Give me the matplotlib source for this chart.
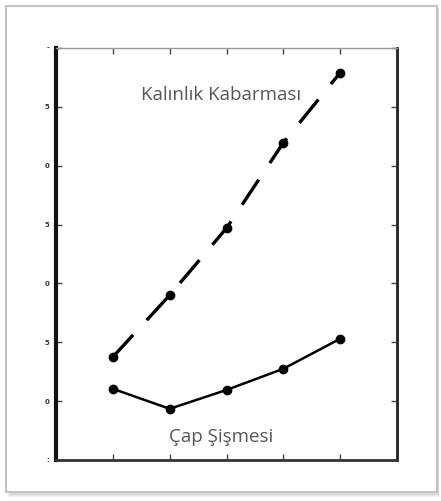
import matplotlib.pyplot as plt
from matplotlib.patches import Rectangle

# sample positions along the x axis
x_points = [1, 2, 3, 4, 5]

# thickness swelling (dashed) and diameter swelling (solid)
kalinlik = [1.75, 2.80, 3.94, 5.39, 6.58]
cap = [1.21, 0.87, 1.19, 1.55, 2.06]

y_ticks = [0, 1, 2, 3, 4, 5, 6, 7]
y_tick_labels = [':', '0', '5', '0', '5', '0', '5', '-']
x_ticks = [1, 2, 3, 4, 5]

fig = plt.figure(figsize=(4.41, 5.01), dpi=100)
fig.patch.set_facecolor('white')

# outer frame with a soft shadow
W, H = 441.0, 501.0
for i, c in enumerate(['#f2f2f2', '#e6e6e6', '#dadada']):
    fig.patches.append(Rectangle(((8 + i) / W, (H - 497 + i) / H), (431 - i) / W, (489 - i) / H,
                                 transform=fig.transFigure, facecolor=c, edgecolor='none', zorder=0))
fig.patches.append(Rectangle((6 / W, (H - 492) / H), 431 / W, 486 / H,
                             transform=fig.transFigure, facecolor='white',
                             edgecolor='#c4c4c4', linewidth=1.5, zorder=1))

ax = fig.add_axes([56 / W, (H - 460) / H, 341 / W, 412 / H])
ax.set_zorder(2)
ax.patch.set_alpha(0)

ax.plot(x_points, kalinlik, color='black', linewidth=2.4, linestyle=(0, (9, 6)),
        marker='o', markersize=6, markerfacecolor='black', dash_capstyle='butt')
ax.plot(x_points, cap, color='black', linewidth=1.8, marker='o', markersize=6,
        markerfacecolor='black')

ax.text(2.90, 6.20, 'Kalınlık Kabarması', fontsize=13.5, color='#575757',
        family='Open Sans', ha='center', va='center')
ax.text(2.90, 0.39, 'Çap Şişmesi', fontsize=13.5, color='#575757',
        family='Open Sans', ha='center', va='center')

ax.set_xlim(0, 6)
ax.set_ylim(0, 7)
ax.set_xticks(x_ticks)
ax.set_xticklabels([])
ax.set_yticks(y_ticks)
ax.set_yticklabels(y_tick_labels, fontsize=5, fontweight='bold', color='#333333')

ax.tick_params(direction='in', length=4, width=1, color='#444444',
               top=True, right=True, pad=5)

ax.spines['left'].set_linewidth(3)
ax.spines['left'].set_color('#111111')
ax.spines['bottom'].set_linewidth(2)
ax.spines['bottom'].set_color('#333333')
ax.spines['right'].set_linewidth(2)
ax.spines['right'].set_color('#222222')
ax.spines['top'].set_linewidth(1)
ax.spines['top'].set_color('#999999')

fig.savefig('out.png', dpi=100)
